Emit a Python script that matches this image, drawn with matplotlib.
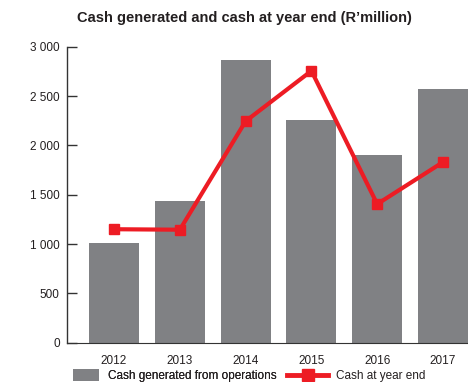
import matplotlib.pyplot as plt
from matplotlib.patches import Patch
from matplotlib.lines import Line2D

years = ['2012', '2013', '2014', '2015', '2016', '2017']
cash_generated = [1010, 1435, 2865, 2255, 1900, 2570]
cash_year_end = [1150, 1145, 2245, 2755, 1405, 1830]
yticks = [0, 500, 1000, 1500, 2000, 2500, 3000]
ytick_labels = ['0', '500', '1 000', '1 500', '2 000', '2 500', '3 000']

grey = '#808184'
red = '#ED1C24'
txt = '#231F20'

plt.rcParams['font.family'] = ['Liberation Sans', 'DejaVu Sans']

fig = plt.figure(figsize=(4.68, 3.82), dpi=100)
ax = fig.add_axes([0.1425, 0.1029, 0.8575, 0.7749])

x = list(range(len(years)))
ax.bar(x, cash_generated, width=0.76, color=grey, zorder=2)
ax.plot(x, cash_year_end, color=red, lw=3, marker='s', ms=7.5, zorder=3)

ax.set_xlim(-0.72, 5.38)
ax.set_ylim(0, 3000)
ax.set_yticks(yticks)
ax.set_yticklabels(ytick_labels)
ax.set_xticks(x)
ax.set_xticklabels(years)

for s in ['top', 'right']:
    ax.spines[s].set_visible(False)
ax.spines['left'].set_color('#333333')
ax.spines['bottom'].set_color('#333333')
ax.spines['left'].set_linewidth(1.0)
ax.spines['bottom'].set_linewidth(0.8)
ax.tick_params(axis='y', direction='in', length=7.5, width=1.0, color='#333333',
               labelsize=8.5, labelcolor=txt, pad=5)
ax.tick_params(axis='x', length=0, labelsize=8.5, labelcolor=txt, pad=9)

fig.text(0.523, 0.952, 'Cash generated and cash at year end (R\u2019million)',
         ha='center', va='center', fontsize=10.5, fontweight='bold', color=txt)

# two separate legends so each handle gets its own length
leg_y = 0.016
common = dict(loc='center left', frameon=False, fontsize=8.5, borderpad=0,
              borderaxespad=0, labelcolor=txt)
leg1 = fig.legend([Patch(facecolor=grey, edgecolor='none')],
                  ['Cash generated from operations'],
                  bbox_to_anchor=(0.156, leg_y), handlelength=2.2, handleheight=1.2,
                  handletextpad=0.75, **common)
fig.add_artist(leg1)
fig.legend([Line2D([], [], color=red, lw=3.5, marker='s', ms=9)],
           ['Cash at year end'],
           bbox_to_anchor=(0.613, leg_y), handlelength=3.5,
           handletextpad=0.65, **common)

fig.savefig('out.png', dpi=100)
